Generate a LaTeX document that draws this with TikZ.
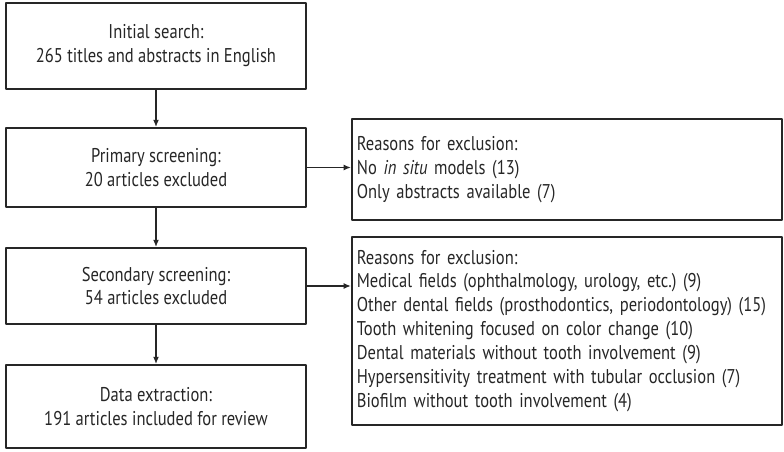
\documentclass[tikz,border=0pt]{standalone}
\usepackage{fontspec}
\setmainfont{PT Sans}[FakeStretch=0.83]
\usetikzlibrary{arrows.meta,positioning}
\frenchspacing
\tikzset{
  stage/.style={draw,line width=1.5pt,minimum width=9cm,align=center,inner sep=0pt},
  reason/.style={draw,line width=1.5pt,text width=12.6cm,align=left,inner xsep=0.15cm,inner ysep=0pt,anchor=north west},
  flow/.style={-{Latex[length=2.2mm,width=1.8mm]},line width=1.3pt}
}
\begin{document}
\begin{tikzpicture}[x=0.03cm,y=-0.03cm,line join=round,font=\fontsize{17}{20.4}\selectfont,color=black!85]
\useasboundingbox (0,0) rectangle (784,452);
\node[stage,minimum height=2.58cm] (init) at (156,46) {Initial search:\\265 titles and abstracts in English};
\node[stage,minimum height=2.37cm] (primary) at (156,167.5) {Primary screening:\\20 articles excluded};
\node[stage,minimum height=2.28cm] (secondary) at (156,286) {Secondary screening:\\54 articles excluded};
\node[stage,minimum height=2.49cm] (extract) at (156,406.5) {Data extraction:\\191 articles included for review};
\node[reason,minimum height=3.03cm] (excl1) at (351,118) {Reasons for exclusion:\\No \textit{in situ} models (13)\\Only abstracts available (7)};
\node[reason,minimum height=5.64cm] (excl2) at (351,236) {Reasons for exclusion:\\Medical fields (ophthalmology, urology, etc.) (9)\\Other dental fields (prosthodontics, periodontology) (15)\\Tooth whitening focused on color change (10)\\Dental materials without tooth involvement (9)\\Hypersensitivity treatment with tubular occlusion (7)\\Biofilm without tooth involvement (4)};
\foreach \a/\b in {init/primary,primary/secondary,secondary/extract}{\draw[flow] (\a) -- (\b);}
\draw[flow] (primary.east) -- (primary.east -| excl1.west);
\draw[flow] (secondary.east) -- (secondary.east -| excl2.west);
\end{tikzpicture}
\end{document}
